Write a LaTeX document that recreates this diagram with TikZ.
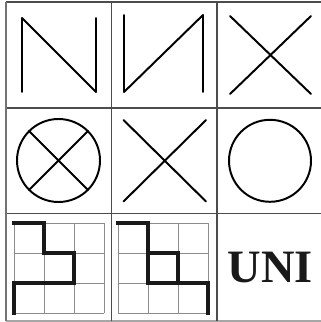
\documentclass[tikz,border=0pt]{standalone}
\usepackage{fontspec}
\setmainfont{Liberation Serif}
\usetikzlibrary{calc}

\begin{document}
\begin{tikzpicture}[
      x=0.25mm, y=-0.25mm,
      frame/.style={draw=black!70, line width=0.9pt},
      glyph/.style={draw=black, line width=1.4pt, line cap=round, line join=round},
      cellgrid/.style={draw=black!45, line width=0.7pt},
      route/.style={draw=black!90, line width=2.6pt, line cap=rect}
    ]
    \useasboundingbox (0,0) rectangle (320,322);

    % outer frame and cell lines
    \draw[frame] (6,2) -- (322,2);
    \draw[frame] (6,108) -- (322,108);
    \draw[frame] (6,213.5) -- (322,213.5);
    \draw[draw=black!35, line width=0.9pt] (6,321) -- (322,321);
    \draw[draw=black!55, line width=0.9pt] (6,2) -- (6,321);
    \draw[frame] (111.5,2) -- (111.5,321);
    \draw[frame] (217,2) -- (217,321);

    % row 1
    \draw[glyph] (22,92) -- (22,18) -- (96,92) -- (96,18);
    \draw[glyph] (124,15) -- (124,92) -- (203,15) -- (203,92);
    \draw[glyph] (230,16) -- (311,94) (230,94) -- (311,16);

    % row 2
    \draw[glyph] (58.5,160.5) circle [radius=41.5];
    \draw[glyph] ($(58.5,160.5)+(-45:41.5)$) -- ($(58.5,160.5)+(135:41.5)$)
                 ($(58.5,160.5)+(45:41.5)$) -- ($(58.5,160.5)+(-135:41.5)$);
    \draw[glyph] (123.5,120) -- (206,201.5) (123.5,201.5) -- (206,120);
    \draw[glyph] (270,160.8) circle [radius=41];

    % row 3
    \foreach \ox in {14,118.3} {
      \foreach \k in {0,1,2,3} {
        \draw[cellgrid] (\ox+30*\k,223.3) -- (\ox+30*\k,313.3);
        \draw[cellgrid] (\ox,223.3+30*\k) -- (\ox+90,223.3+30*\k);
      }
    }
    \draw[route] (14,223.3) -- (44,223.3) -- (44,253.3) -- (74,253.3) -- (74,283.3)
                 -- (14,283.3) -- (14,313.3);
    \draw[route] (118.3,223.3) -- (148.3,223.3) -- (148.3,283.3) -- (208.3,283.3)
                 -- (208.3,313.3);
    \draw[route] (148.3,253.3) -- (178.3,253.3) -- (178.3,283.3);

    \node[font=\bfseries\fontsize{33}{33}\selectfont, text=black!90] (uni) at (270.5,268) {UNI};
  \end{tikzpicture}
\end{document}
